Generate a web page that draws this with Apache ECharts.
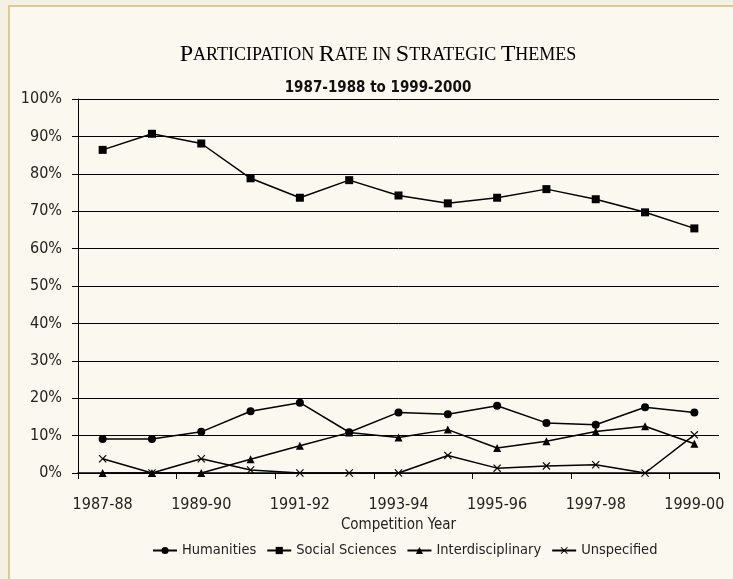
<!DOCTYPE html>
<html lang="en">
<head>
    <meta charset="UTF-8">
    <title>Participation Rate in Strategic Themes</title>
    <script src="https://cdn.jsdelivr.net/npm/echarts@6/dist/echarts.min.js"></script>
    <style>
        html, body { margin: 0; padding: 0; background: #f4f0e4; }
    </style>
</head>
<body>
    <div id="chart" style="width: 733px; height: 579px;"></div>
    <script>
    // competition years
    var years = ['1987-88', '1988-89', '1989-90', '1990-91', '1991-92', '1992-93', '1993-94',
                 '1994-95', '1995-96', '1996-97', '1997-98', '1998-99', '1999-00'];
    // participation rate, percent
    var humanities = [9.1, 9.1, 11.0, 16.5, 18.8, 10.9, 16.2, 15.7, 18.0, 13.4, 12.9, 17.6, 16.2];
    var socialSciences = [86.4, 90.7, 88.1, 78.8, 73.6, 78.3, 74.2, 72.1, 73.6, 75.9, 73.2, 69.7, 65.4];
    var interdisciplinary = [0, 0, 0, 3.7, 7.3, 10.8, 9.5, 11.6, 6.7, 8.5, 11.1, 12.5, 7.8];
    var unspecified = [3.8, 0, 3.8, 0.8, 0, 0, 0, 4.7, 1.3, 1.9, 2.2, 0, 10.2];

    var sansFont = "'Liberation Sans Narrow', 'DejaVu Sans Condensed', 'Noto Sans', sans-serif";
    var serifFont = "'Liberation Serif', 'DejaVu Serif', serif";
    var crossPath = 'path://M0,1L1,0L5,4L9,0L10,1L6,5L10,9L9,10L5,6L1,10L0,9L4,5Z';

    var myChart = echarts.init(document.getElementById('chart'));

    function makeSeries(name, data, symbol, size) {
        return {
            name: name,
            type: 'line',
            data: data,
            symbol: symbol,
            symbolSize: size,
            showAllSymbol: true,
            lineStyle: { color: '#000', width: 1.5 },
            itemStyle: { color: '#000' },
            emphasis: { disabled: true },
            z: 3
        };
    }

    var option = {
        animation: false,
        backgroundColor: '#f4f0e4',
        graphic: [
            // panel with tan border on top and left
            { type: 'rect', shape: { x: 8, y: 5, width: 725, height: 574 }, style: { fill: '#dccb8e' }, z: -10 },
            { type: 'rect', shape: { x: 10, y: 7, width: 723, height: 572 }, style: { fill: '#fbf8f0' }, z: -9 }
        ],
        title: {
            text: '{b|P}{s|ARTICIPATION} {b|R}{s|ATE IN} {b|S}{s|TRATEGIC} {b|T}{s|HEMES}',
            subtext: '1987-1988 to 1999-2000',
            left: 373,
            top: 38,
            textAlign: 'center',
            itemGap: 14,
            textStyle: {
                color: '#000',
                fontFamily: serifFont,
                fontWeight: 'normal',
                rich: {
                    b: { fontSize: 24, fontFamily: serifFont, fontWeight: 'normal', color: '#000' },
                    s: { fontSize: 18, fontFamily: serifFont, fontWeight: 'normal', color: '#000' }
                }
            },
            subtextStyle: {
                color: '#111',
                fontFamily: sansFont,
                fontWeight: 'bold',
                fontSize: 15
            }
        },
        legend: {
            bottom: 16,
            left: 147,
            itemWidth: 24,
            itemHeight: 9,
            itemGap: 10,
            textStyle: { color: '#222', fontFamily: sansFont, fontSize: 14.5 },
            data: ['Humanities', 'Social Sciences', 'Interdisciplinary', 'Unspecified']
        },
        grid: {
            left: 78,
            right: 14,
            top: 99,
            bottom: 106,
            containLabel: false
        },
        xAxis: {
            type: 'category',
            data: years,
            boundaryGap: true,
            name: 'Competition Year',
            nameLocation: 'middle',
            nameGap: 45,
            nameTextStyle: { color: '#222', fontFamily: sansFont, fontSize: 15 },
            axisLine: { lineStyle: { color: '#000', width: 1.5 } },
            axisTick: { show: true, inside: false, length: 6, lineStyle: { color: '#000' }, alignWithLabel: false },
            axisLabel: {
                interval: 1,
                margin: 24,
                color: '#222',
                fontFamily: sansFont,
                fontSize: 16
            },
            splitLine: { show: false }
        },
        yAxis: {
            type: 'value',
            min: 0,
            max: 100,
            interval: 10,
            axisLine: { show: true, lineStyle: { color: '#000', width: 1 } },
            axisTick: { show: true, length: 6, lineStyle: { color: '#000' } },
            axisLabel: {
                formatter: '{value}%',
                margin: 16,
                color: '#222',
                fontFamily: sansFont,
                fontSize: 16
            },
            splitLine: { show: true, lineStyle: { color: '#000', width: 1 } }
        },
        series: [
            makeSeries('Humanities', humanities, 'circle', 8),
            makeSeries('Social Sciences', socialSciences, 'rect', 8),
            makeSeries('Interdisciplinary', interdisciplinary, 'triangle', 8),
            makeSeries('Unspecified', unspecified, crossPath, 8)
        ]
    };

    myChart.setOption(option);
    </script>
</body>
</html>
